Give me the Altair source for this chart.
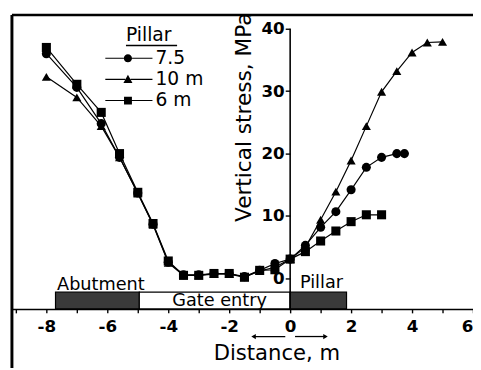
import altair as alt
import pandas as pd

# ---- data ----
series_names = ["7.5", "10 m", "6 m"]

x_circ = [-8, -7, -6.2, -5.6, -5, -4.5, -4, -3.5, -3, -2.5, -2, -1.5, -1, -0.5, 0, 0.5, 1, 1.5, 2, 2.5, 3, 3.5, 3.75]
y_circ = [36.0, 30.6, 24.8, 19.4, 13.7, 8.7, 2.6, 0.6, 0.6, 0.8, 0.8, 0.3, 1.3, 2.4, 3.1, 5.3, 8.2, 10.7, 14.2, 17.8, 19.4, 20.0, 20.0]

x_tri = [-8, -7, -6.2, -5.6, -5, -4.5, -4, -3.5, -3, -2.5, -2, -1.5, -1, -0.5, 0, 0.5, 1, 1.5, 2, 2.5, 3, 3.5, 4, 4.5, 5]
y_tri = [32.3, 29.0, 24.4, 19.4, 13.6, 8.6, 2.5, 0.5, 0.5, 0.7, 0.7, 0.2, 1.2, 1.8, 3.1, 5.0, 9.4, 13.9, 18.9, 24.4, 29.9, 33.2, 36.2, 37.8, 37.9]

x_sq = [-8, -7, -6.2, -5.6, -5, -4.5, -4, -3.5, -3, -2.5, -2, -1.5, -1, -0.5, 0, 0.5, 1, 1.5, 2, 2.5, 3]
y_sq = [37.0, 31.1, 26.6, 20.0, 13.8, 8.8, 2.8, 0.5, 0.5, 0.8, 0.8, 0.2, 1.3, 1.4, 3.1, 4.3, 6.0, 7.6, 9.1, 10.2, 10.2]

x_ticks = list(range(-9, 7))
y_ticks = [0, 10, 20, 30, 40]

box_names = ["Abutment", "Gate entry", "Pillar"]
box_start = [-7.7, -4.95, 0.0]
box_end = [-4.95, 0.0, 1.85]
box_fill = ["#3a3a3a", "white", "#3a3a3a"]
box_top = -2.2
label_x = [-7.65, -3.87, 0.32]
label_y = [-1.9, -4.4, -1.6]

arrow_from = [-0.16, 0.16]
arrow_to = [-1.2, 1.16]
arrow_head = ["triangle-left", "triangle-right"]
arrow_y = -9.3

X_MIN, X_MAX = -9.13, 6.0
Y_MIN, Y_MAX = -4.88, 42.2
W, H = 469, 299
FONT = "DejaVu Sans"

# legend symbols: line + marker (custom paths, unit box -1..1)
leg_paths = [
    "M-2.91,-0.05H-1.2V0.05H-2.91Z M-1.2,0A0.38,0.38 0 1,0 -0.44,0A0.38,0.38 0 1,0 -1.2,0Z M-0.44,-0.05H1.45V0.05H-0.44Z",
    "M-2.91,-0.05H-1.07V0.05H-2.91Z M-0.818,-0.44L-0.4,0.34L-1.236,0.34Z M-0.57,-0.05H1.45V0.05H-0.57Z",
    "M-2.91,-0.05H-1.18V0.05H-2.91Z M-1.18,-0.36H-0.45V0.36H-1.18Z M-0.45,-0.05H1.45V0.05H-0.45Z",
]

rows = []
for name, xs, ys in zip(series_names, [x_circ, x_tri, x_sq], [y_circ, y_tri, y_sq]):
    for a, b in zip(xs, ys):
        rows.append({"series": name, "x": a, "y": b})
df = pd.DataFrame(rows)

boxes = pd.DataFrame({"name": box_names, "xs": box_start, "xe": box_end, "fill": box_fill,
                      "lx": label_x, "ly": label_y})
arrows = pd.DataFrame({"xa": arrow_from, "xb": arrow_to, "head": arrow_head, "ya": [arrow_y] * 2})
yaxis_line = pd.DataFrame({"x0": [0], "ytop": [40], "ybot": [Y_MIN]})

xscale = alt.Scale(domain=[X_MIN, X_MAX], nice=False, zero=False)
yscale = alt.Scale(domain=[Y_MIN, Y_MAX], nice=False, zero=False)

x_axis = alt.Axis(
    values=x_ticks,
    labelExpr="datum.value % 2 == 0 ? '' + datum.value : ''",
    grid=False, domainColor="black", domainWidth=1.6, tickColor="black", tickWidth=1.4,
    tickSize=4, labelFont=FONT, labelFontSize=17, labelFontWeight="bold", labelColor="black",
    labelPadding=6, labelFlush=True, labelOverlap=False,
    title="Distance, m", titleFont=FONT, titleFontSize=21.5, titleFontWeight="normal",
    titleColor="black", titleX=269, titleY=51, titleAlign="center", titleBaseline="alphabetic",
)
y_axis = alt.Axis(
    values=y_ticks, offset=-283, domain=False, grid=False,
    tickColor="black", tickWidth=1.4, tickSize=5,
    labelFont=FONT, labelFontSize=17, labelFontWeight="bold", labelColor="black", labelPadding=1,
    title="Vertical stress, MPa", titleFont=FONT, titleFontSize=22, titleFontWeight="normal",
    titleColor="black", titleAngle=270, titleX=-47, titleY=210, titleAlign="left",
    titleBaseline="middle",
)

rects = alt.Chart(boxes).mark_rect(stroke="black", strokeWidth=1.2).encode(
    x=alt.X("xs:Q", scale=xscale, axis=x_axis),
    x2="xe:Q",
    y=alt.Y("ytop:Q", scale=yscale, axis=y_axis),
    y2="ybot:Q",
    fill=alt.Fill("fill:N", scale=None),
).transform_calculate(ytop=str(box_top), ybot=str(Y_MIN))

texts = alt.Chart(boxes).mark_text(font=FONT, fontSize=18, align="left", baseline="alphabetic",
                                   color="black").encode(
    x=alt.X("lx:Q", scale=xscale, axis=x_axis), y=alt.Y("ly:Q", scale=yscale, axis=y_axis),
    text="name:N")

yline = alt.Chart(yaxis_line).mark_rule(color="black", strokeWidth=1.6).encode(
    x=alt.X("x0:Q", scale=xscale, axis=x_axis), y=alt.Y("ytop:Q", scale=yscale, axis=y_axis),
    y2="ybot:Q")

lines = alt.Chart(df).mark_line(color="black", strokeWidth=1.2).encode(
    x=alt.X("x:Q", scale=xscale, axis=x_axis), y=alt.Y("y:Q", scale=yscale, axis=y_axis),
    detail="series:N", order="x:Q")

points = alt.Chart(df).mark_point(filled=True, color="black", size=85, opacity=1).encode(
    x=alt.X("x:Q", scale=xscale, axis=x_axis), y=alt.Y("y:Q", scale=yscale, axis=y_axis),
    shape=alt.Shape("series:N", scale=alt.Scale(domain=series_names,
                                                range=["circle", "triangle-up", "square"]),
                    legend=None),
)

legend_layer = alt.Chart(df).mark_point(filled=True, color="black", opacity=1).encode(
    x=alt.X("x:Q", scale=xscale, axis=x_axis), y=alt.Y("y:Q", scale=yscale, axis=y_axis),
    shape=alt.Shape("series:N", scale=alt.Scale(domain=series_names, range=leg_paths),
                    legend=alt.Legend(
                        title="Pillar", orient="none", legendX=116, legendY=11,
                        symbolSize=484, symbolFillColor="black", symbolStrokeWidth=0,
                        symbolOpacity=1,
                        labelFont=FONT, labelFontSize=19, labelColor="black", labelOffset=8,
                        titleFont=FONT, titleFontSize=19, titleFontWeight="normal",
                        titleColor="black", titlePadding=3, rowPadding=0.5, padding=0)),
).transform_filter("false")

arrow_lines = alt.Chart(arrows).mark_rule(color="black", strokeWidth=1.3).encode(
    x=alt.X("xa:Q", scale=xscale, axis=x_axis), x2="xb:Q",
    y=alt.Y("ya:Q", scale=yscale, axis=y_axis))
arrow_heads = alt.Chart(arrows).mark_point(filled=True, color="black", size=28, opacity=1).encode(
    x=alt.X("xb:Q", scale=xscale, axis=x_axis), y=alt.Y("ya:Q", scale=yscale, axis=y_axis),
    shape=alt.Shape("head:N", scale=None))

frame_top = alt.Chart().mark_rule(color="black", strokeWidth=2.5).encode(
    x=alt.value(0), x2=alt.value(W), y=alt.value(0))
frame_left = alt.Chart().mark_rule(color="black", strokeWidth=3).encode(
    x=alt.value(0), y=alt.value(0), y2=alt.value(H + 60))
underline = alt.Chart().mark_rule(color="black", strokeWidth=1.5).encode(
    x=alt.value(116), x2=alt.value(168), y=alt.value(31))

chart = alt.layer(
    rects, texts, yline, lines, points, legend_layer, arrow_lines, arrow_heads,
    frame_top, frame_left, underline,
).resolve_scale(shape="independent").properties(
    width=W, height=H,
    autosize=alt.AutoSizeParams(type="none"),
    padding={"left": 4, "top": 4, "right": 0, "bottom": 59},
    background="white",
).configure_view(strokeWidth=0)

chart.save("out.html", embed_options={"renderer": "svg", "actions": False})
